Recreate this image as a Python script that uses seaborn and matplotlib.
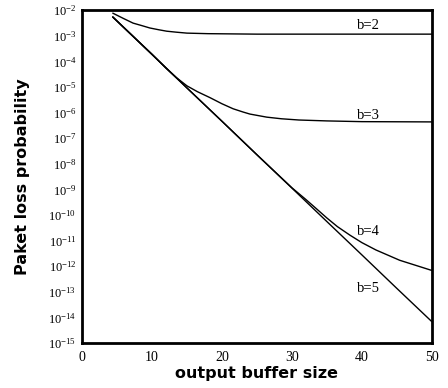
import numpy as np
import pandas as pd
import matplotlib
matplotlib.use("Agg")
import matplotlib.pyplot as plt
import seaborn as sns

# ---- data ----
x_b2 = [4.4, 6.0, 7.3, 8.5, 9.7, 11.0, 12.1, 13.5, 15.0, 18.0, 25.0, 50.0]
y_b2 = [7.6e-3, 4.6e-3, 3.1e-3, 2.5e-3, 2.0e-3, 1.7e-3, 1.5e-3, 1.37e-3, 1.26e-3, 1.2e-3, 1.15e-3, 1.15e-3]

x_b3 = [4.4, 10.0, 12.0, 13.5, 15.0, 16.5, 18.3, 20.0, 21.6, 23.0, 24.0, 26.4, 28.5, 31.0, 35.0, 40.0, 50.0]
y_b3 = [5.37e-3, 1.9e-4, 5.4e-5, 2.3e-5, 1.1e-5, 6.5e-6, 3.8e-6, 2.2e-6, 1.4e-6, 1.05e-6, 8.7e-7, 6.6e-7, 5.7e-7, 5.1e-7, 4.7e-7, 4.4e-7, 4.3e-7]

x_b4 = [4.4, 10.0, 15.0, 20.0, 25.0, 30.0, 32.0, 33.5, 35.0, 36.5, 38.3, 40.0, 42.0, 45.4, 50.0]
y_b4 = [5.37e-3, 1.86e-4, 9.1e-6, 4.57e-7, 2.24e-8, 1.15e-9, 4.0e-10, 1.75e-10, 7.6e-11, 3.5e-11, 1.62e-11, 8.3e-12, 4.3e-12, 1.7e-12, 6.8e-13]

x_b5 = [4.4, 10.0, 15.0, 20.0, 25.0, 30.0, 35.0, 40.0, 45.0, 50.0]
y_b5 = [5.37e-3, 1.86e-4, 9.1e-6, 4.57e-7, 2.24e-8, 1.12e-9, 5.5e-11, 2.75e-12, 1.35e-13, 6.8e-15]

series_names = ["b=2", "b=3", "b=4", "b=5"]
label_pos = [(41.0, 2.6e-3), (41.0, 7.5e-7), (41.0, 2.3e-11), (41.0, 1.4e-13)]

x_ticks = [0, 10, 20, 30, 40, 50]
y_exponents = list(range(-2, -16, -1))

frames = []
for name, xs, ys in zip(series_names, [x_b2, x_b3, x_b4, x_b5], [y_b2, y_b3, y_b4, y_b5]):
    frames.append(pd.DataFrame({"x": xs, "y": ys, "series": name}))
df = pd.concat(frames, ignore_index=True)

sns.set_theme(style="white")
plt.rcParams["mathtext.fontset"] = "stix"
plt.rcParams["font.family"] = ["DejaVu Sans"]

fig = plt.figure(figsize=(4.48, 3.88), dpi=100)
ax = fig.add_axes([0.183, 0.116, 0.781, 0.858])

sns.lineplot(data=df, x="x", y="y", units="series", estimator=None, sort=False,
             color="black", linewidth=1.0, ax=ax, legend=False)

ax.set_yscale("log")
ax.set_xlim(0, 50)
ax.set_ylim(1e-15, 1e-2)

ax.set_xticks(x_ticks)
ax.set_xticklabels([str(t) for t in x_ticks], family="Liberation Serif", fontsize=10)
ax.set_xticks([5, 15, 25, 35, 45], minor=True)
ax.set_yticks([10.0 ** e for e in y_exponents])
ax.set_yticklabels([r"$\mathregular{10^{%d}}$" % e for e in y_exponents], fontsize=9)
ax.yaxis.set_minor_locator(matplotlib.ticker.NullLocator())
ax.tick_params(axis="both", which="both", direction="in", length=3, width=0.8,
               colors="black", pad=4)
ax.tick_params(axis="x", which="major", pad=6)
for lab in ax.get_yticklabels():
    lab.set_family("Liberation Serif")

for s in ax.spines.values():
    s.set_linewidth(2.0)
    s.set_color("black")

for name, (lx, ly) in zip(series_names, label_pos):
    ax.text(lx, ly, name, family="Liberation Serif", fontsize=10.5,
            ha="center", va="center", color="black")

ax.set_xlabel("output buffer size", fontsize=11.5, fontweight="bold",
              labelpad=1, color="black")
ax.set_ylabel("Paket loss probability", fontsize=11.5, fontweight="bold",
              labelpad=13, color="black")

fig.savefig("out.png", dpi=100)
